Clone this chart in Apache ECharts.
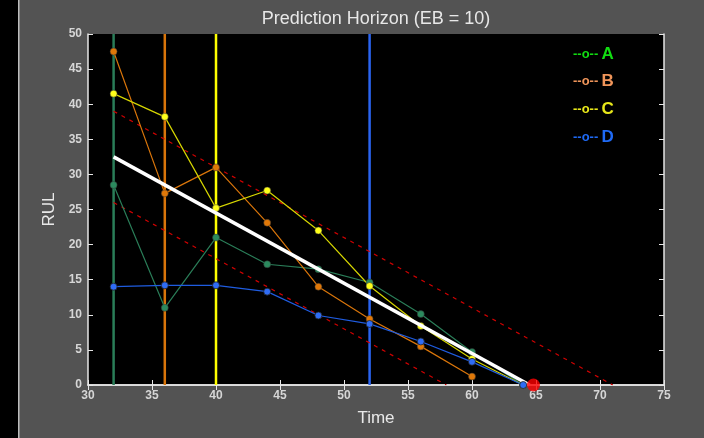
<!DOCTYPE html>
<html>
<head>
<meta charset="utf-8">
<script src="https://cdn.jsdelivr.net/npm/echarts@6/dist/echarts.min.js"></script>
<style>html,body{margin:0;padding:0;background:#535353;}#c{width:704px;height:438px;}</style>
</head>
<body>
<div id="c"></div>
<script>
var times = [32, 36, 40, 44, 48, 52, 56, 60, 64];
var seriesA = [28.5, 11, 21, 17.2, 16.5, 14.6, 10.1, 4.7, 0];
var seriesB = [47.5, 27.3, 31, 23.1, 14, 9.4, 5.5, 1.2];
var seriesC = [41.5, 38.2, 25.2, 27.7, 22, 14.1, 8.4, 3.7, 0];
var seriesD = [14, 14.2, 14.2, 13.3, 9.9, 8.7, 6.2, 3.3, 0];
var verticalTimes = {A: 32, B: 36, C: 40, D: 52};
var trueRUL = [[32, 32.5], [64.5, 0]];
var upperBound = [[32, 39], [71, 0]];
var lowerBound = [[32, 26], [58, 0]];
var endOfLife = [64.8, 0];
var names = ['A', 'B', 'C', 'D'];

function pairs(v) { return v.map(function (y, i) { return [times[i], y]; }); }

var lineColors = {A: '#2a7d58', B: '#d9750a', C: '#d6d600', D: '#1f5ce0'};
var dotColors = {A: '#2b8a5e', B: '#e07808', C: '#ffff1a', D: '#2f6cf5'};
var legendColors = {A: '#11dd11', B: '#f0955a', C: '#e8e81a', D: '#1f6af5'};
var data = {A: seriesA, B: seriesB, C: seriesC, D: seriesD};
var FONT = 'Liberation Sans, Arial, sans-serif';

var series = [];
names.forEach(function (n) {
  series.push({
    type: 'line', silent: true, symbol: 'none', z: 1,
    data: [[verticalTimes[n], 0], [verticalTimes[n], 50]],
    lineStyle: {color: n === 'C' ? '#ffff00' : (n === 'D' ? '#2a64f0' : lineColors[n]), width: 2.5}
  });
});
[upperBound, lowerBound].forEach(function (b) {
  series.push({type: 'line', symbol: 'none', z: 2, data: b,
    lineStyle: {color: '#d00000', width: 1.2, type: [4, 5]}});
});
['A', 'B', 'C'].forEach(function (n) {
  series.push({name: n, type: 'line', z: 3, data: pairs(data[n]), symbol: 'circle', symbolSize: 7,
    lineStyle: {color: lineColors[n], width: 1.2},
    itemStyle: {color: dotColors[n], borderColor: '#333', borderWidth: 0.5}});
});
series.push({type: 'line', symbol: 'none', z: 4, data: trueRUL, lineStyle: {color: '#ffffff', width: 3.5}});
series.push({type: 'scatter', z: 5, data: [endOfLife], symbolSize: 13, itemStyle: {color: '#ff0000'}});
series.push({name: 'D', type: 'line', z: 6, data: pairs(seriesD), symbol: 'circle', symbolSize: 7,
  lineStyle: {color: lineColors.D, width: 1.2},
  itemStyle: {color: dotColors.D, borderColor: '#222', borderWidth: 0.8}});

var axisCommon = {
  axisLine: {show: true, lineStyle: {color: '#e6e6e6', width: 1.5}},
  axisTick: {show: true, inside: true, length: 5, lineStyle: {color: '#e6e6e6'}},
  splitLine: {show: false}
};
var chart = echarts.init(document.getElementById('c'), null, {renderer: 'canvas'});
chart.setOption({
  backgroundColor: '#535353',
  animation: false,
  title: {text: 'Prediction Horizon (EB = 10)', left: 371, top: 5, textAlign: 'center',
    textStyle: {color: '#e8e8e8', fontSize: 18, fontWeight: 'normal', fontFamily: FONT}},
  grid: {left: 88, right: 40, top: 34, bottom: 53, show: true, backgroundColor: '#000000', borderWidth: 0},
  legend: {
    orient: 'vertical', left: 563, top: 40, icon: 'none', itemWidth: 0, itemHeight: 18, itemGap: 10.3,
    selectedMode: false,
    data: names.map(function (n) { return {name: n, textStyle: {color: legendColors[n]}}; }),
    formatter: function (n) { return '{s|--o--} {b|' + n + '}'; },
    textStyle: {fontFamily: FONT,
      rich: {s: {fontSize: 13, fontWeight: 'bold'}, b: {fontSize: 17, fontWeight: 'bold'}}}
  },
  graphic: [
    {type: 'rect', shape: {x: 0, y: 0, width: 18, height: 438}, style: {fill: '#000'}, z: 100},
    {type: 'rect', shape: {x: 18, y: 0, width: 1.5, height: 438}, style: {fill: '#bdbdbd'}, z: 100}
  ],
  xAxis: [
    Object.assign({type: 'value', min: 30, max: 75, interval: 5, name: 'Time', nameLocation: 'middle', nameGap: 25,
      nameTextStyle: {color: '#e8e8e8', fontSize: 17, fontFamily: FONT},
      axisLabel: {color: '#d6d6d6', fontSize: 12, fontWeight: 'bold', margin: 5, fontFamily: FONT}}, axisCommon),
    Object.assign({type: 'value', min: 30, max: 75, interval: 5, position: 'top', axisLabel: {show: false}}, axisCommon)
  ],
  yAxis: [
    Object.assign({type: 'value', min: 0, max: 50, interval: 5, name: 'RUL', nameLocation: 'middle', nameGap: 26,
      nameTextStyle: {color: '#e8e8e8', fontSize: 17, fontFamily: FONT},
      axisLabel: {color: '#d6d6d6', fontSize: 12, fontWeight: 'bold', margin: 6, fontFamily: FONT}}, axisCommon),
    Object.assign({type: 'value', min: 0, max: 50, interval: 5, position: 'right', axisLabel: {show: false}}, axisCommon)
  ],
  series: series
});
</script>
</body>
</html>
